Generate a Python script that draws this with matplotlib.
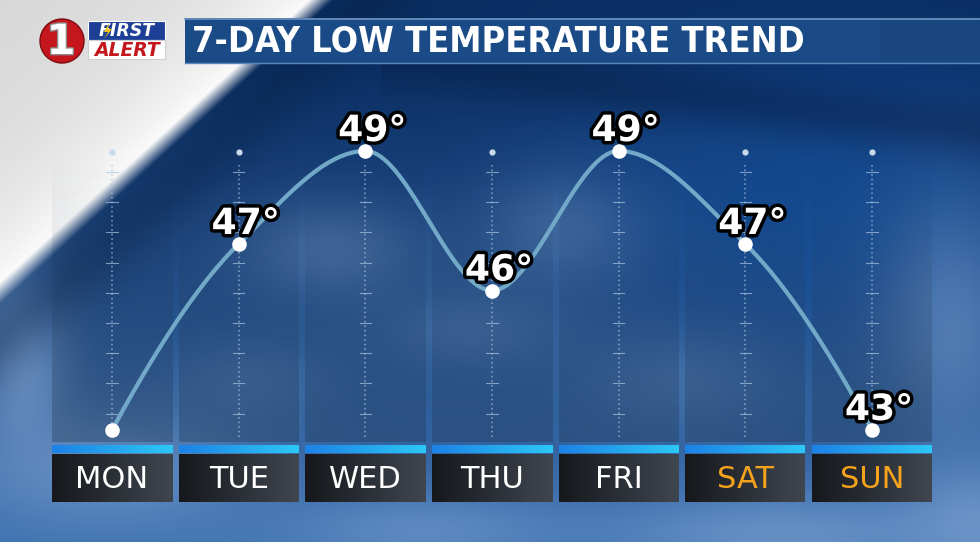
import numpy as np
import matplotlib
matplotlib.use("Agg")
import matplotlib.pyplot as plt
import matplotlib.patheffects as pe
import matplotlib.transforms as mtransforms
from matplotlib import font_manager
from matplotlib.patches import Rectangle, Circle, Polygon

# data
days = ["MON", "TUE", "WED", "THU", "FRI", "SAT", "SUN"]
lows = [43, 47, 49, 46, 49, 47, 43]
show_label = [False, True, True, True, True, True, True]
day_colors = ["white", "white", "white", "white", "white", "#f5a21c", "#f5a21c"]
title = "7-DAY LOW TEMPERATURE TREND"

W, H = 980, 542


def monotone_curve(x, y, n=60):
    # Fritsch-Carlson monotone cubic, gives the rounded tops of the curve
    x = np.asarray(x, float)
    y = np.asarray(y, float)
    h = np.diff(x)
    delta = np.diff(y) / h
    d = np.zeros(len(x))
    for k in range(1, len(x) - 1):
        if delta[k - 1] * delta[k] > 0:
            w1 = 2 * h[k] + h[k - 1]
            w2 = h[k] + 2 * h[k - 1]
            d[k] = (w1 + w2) / (w1 / delta[k - 1] + w2 / delta[k])
    for k, (a, b, ha, hb) in [(0, (delta[0], delta[1], h[0], h[1])),
                              (-1, (delta[-1], delta[-2], h[-1], h[-2]))]:
        v = ((2 * ha + hb) * a - ha * b) / (ha + hb)
        if np.sign(v) != np.sign(a):
            v = 0
        elif np.sign(a) != np.sign(b) and abs(v) > 3 * abs(a):
            v = 3 * a
        d[k] = v
    xs, ys = [], []
    for k in range(len(x) - 1):
        t = np.linspace(0, 1, n)
        h00 = 2 * t**3 - 3 * t**2 + 1
        h10 = t**3 - 2 * t**2 + t
        h01 = -2 * t**3 + 3 * t**2
        h11 = t**3 - t**2
        xs.append(x[k] + t * h[k])
        ys.append(h00 * y[k] + h10 * h[k] * d[k] + h01 * y[k + 1] + h11 * h[k] * d[k + 1])
    return np.concatenate(xs), np.concatenate(ys)


# ---- background picture (sky, clouds, white corner) ----
yy, xx = np.mgrid[0:H, 0:W].astype(float)
top = np.array([10, 46, 98])
bottom = np.array([60, 112, 175])
t = np.clip((yy - 60) / 470, 0, 1)[..., None]
img = top * (1 - t) + bottom * t

# brighter blue to the right in the middle band
blue = np.exp(-((xx - 830) / 260) ** 2 - ((yy - 200) / 150) ** 2)[..., None] * 0.55
img = img * (1 - blue) + np.array([18, 82, 165]) * blue
# dark diagonal band across the upper right
band = (0.45 * np.exp(-((yy - (60 + 0.12 * (xx - 400))) / 28) ** 2) * (xx > 380))[..., None]
img = img * (1 - band) + np.array([8, 32, 72]) * band

clouds = [
    (330, 250, 90, 50, 0.30), (560, 230, 80, 60, 0.28), (470, 330, 90, 40, 0.22),
    (950, 320, 70, 120, 0.40), (110, 470, 140, 60, 0.45), (420, 530, 140, 40, 0.35),
    (780, 535, 170, 45, 0.45), (980, 520, 80, 60, 0.45), (250, 380, 80, 40, 0.18),
    (680, 380, 100, 50, 0.22), (20, 360, 50, 90, 0.55),
]
cloud_col = np.array([150, 182, 222])
for cx, cy, sx, sy, a in clouds:
    g = (a * np.exp(-((xx - cx) / sx) ** 2 - ((yy - cy) / sy) ** 2))[..., None]
    img = img * (1 - g) + cloud_col * g

# white corner at top left with a dark shadow next to it
dist = (xx + 1.095 * yy - 320) / 1.48
shadow = (0.35 * np.exp(-((dist - 35) / 35) ** 2))[..., None]
img = img * (1 - shadow) + np.array([8, 30, 68]) * shadow
wmask = np.clip(0.5 - dist / 16, 0, 1)[..., None]
grey = np.clip(215 + 40 * np.exp(dist / 70)[..., None], 215, 250) * np.ones(3)
img = img * (1 - wmask) + grey * wmask
img = np.clip(img, 0, 255).astype(np.uint8)

fig = plt.figure(figsize=(W / 100, H / 100), dpi=100)
bg = fig.add_axes([0, 0, 1, 1])
bg.imshow(img, extent=(0, W, H, 0), aspect="auto", zorder=0)
bg.set_xlim(0, W)
bg.set_ylim(H, 0)
bg.axis("off")

# ---- title banner and logo ----
bg.add_patch(Rectangle((185, 18), W - 185, 45, fc="#1b4b86", ec="none", zorder=2))
bg.add_patch(Rectangle((880, 20), W - 880, 41, fc="#19467e", ec="none", zorder=2))
bg.plot([185, W], [18.5, 18.5], color="#6d95c4", lw=1.2, zorder=3)
bg.plot([185, W], [62.5, 62.5], color="#5d88bb", lw=1.0, zorder=3)

# narrow bold face if one is installed, otherwise fit the width by size
title_font = dict(family="DejaVu Sans", stretch="normal")
for fam, st in [("Liberation Sans Narrow", "condensed"), ("DejaVu Sans", "condensed")]:
    fp = font_manager.FontProperties(family=fam, stretch=st, weight="bold")
    try:
        path = font_manager.findfont(fp, fallback_to_default=False)
    except ValueError:
        path = ""
    if "Narrow" in path or "Condensed" in path:
        title_font = dict(family=fam, stretch=st)
        break
tt = bg.text(192, 41, title, color="white", fontsize=28, fontweight="bold",
             va="center", ha="left", zorder=4, **title_font)
fig.canvas.draw()
tw = tt.get_window_extent().width
if tw > 613:
    tt.set_fontsize(28 * 613 / tw)

bg.add_patch(Circle((62, 41), 22, fc="#c4161c", ec="#7d0c10", lw=1, zorder=3))
bg.text(61, 42, "1", color="white", fontsize=30, fontweight="heavy", ha="center",
        va="center", zorder=4, path_effects=[pe.withStroke(linewidth=2, foreground="#8a8a8a")])
bg.add_patch(Rectangle((88, 21), 77, 19, fc="#1d3f95", ec="white", lw=0.8, zorder=3))
bg.add_patch(Rectangle((88, 40), 77, 19, fc="white", ec="#cfcfcf", lw=0.8, zorder=3))
bg.text(127, 31, "FIRST", color="white", fontsize=12.5, fontweight="bold", style="italic",
        ha="center", va="center", zorder=4)
bg.add_patch(Polygon([(109, 23), (104, 32), (108, 32), (104, 39), (112, 29), (108, 29)],
                     fc="#f2c318", ec="none", zorder=5))
bg.text(127, 50, "ALERT", color="#c4161c", fontsize=13.5, fontweight="bold", style="italic",
        ha="center", va="center", zorder=4)

# ---- chart axes (x = day index, y = temperature) ----
col_px, x0_px = 126.67, 112
deg_px, y49_px = 46.5, 151
ax = fig.add_axes([0, 0, 1, 1], zorder=2)
ax.patch.set_visible(False)
trans = mtransforms.blended_transform_factory(ax.transData, bg.transData)
x = np.arange(len(days))
half = 60 / col_px

for i in x:
    # column panel, darker toward the bottom
    a = np.linspace(0.0, 0.40, 64)[:, None, None] ** 1.2
    panel = np.concatenate([np.ones((64, 1, 3)) * np.array([0.12, 0.19, 0.28]), a], axis=2)
    ax.imshow(panel, extent=(i - half, i + half, 442, 150), transform=trans,
              aspect="auto", zorder=1, interpolation="bilinear")
    # dotted guide with little ticks
    ax.plot([i, i], [165, 440], transform=trans, color="#a9c4e0", lw=1.1,
            ls=(0, (1, 2)), alpha=0.75, zorder=2)
    for ty in np.arange(172, 420, 30.2):
        ax.plot([i - 0.045, i + 0.045], [ty, ty], transform=trans, color="#a9c4e0",
                lw=0.8, alpha=0.7, zorder=2)
    ax.plot([i], [152], "o", transform=trans, color="#c9d9ea", ms=4.5, mec="none", zorder=2)
    # blue strip
    strip = np.linspace(0, 1, 64)[None, :, None]
    strip = np.array([28, 130, 230]) / 255 * (1 - strip) + np.array([45, 200, 245]) / 255 * strip
    ax.imshow(strip, extent=(i - half, i + half, 453, 445), transform=trans,
              aspect="auto", zorder=3, interpolation="bilinear")
    # day box
    g = np.linspace(0, 1, 64)[None, :, None]
    box = np.array([22, 24, 28]) / 255 * (1 - g) + np.array([64, 70, 80]) / 255 * g
    ax.imshow(box, extent=(i - half, i + half, 502, 454), transform=trans,
              aspect="auto", zorder=3, interpolation="bilinear")
    ax.text(i, 479, days[i], transform=trans, color=day_colors[i], fontsize=22,
            ha="center", va="center", zorder=4, family="DejaVu Sans")

cx, cy = monotone_curve(x, lows)
ax.plot(cx, cy, color="#72a9c8", lw=3, solid_capstyle="round", zorder=5)
ax.plot(x, lows, "o", color="white", ms=10.5, mec="none", zorder=6)

for i, v in enumerate(lows):
    if not show_label[i]:
        continue
    ax.annotate(f"{v}°", (i, v), xytext=(7, 10), textcoords="offset pixels",
                ha="center", va="baseline", color="white", fontsize=26,
                fontweight="bold", zorder=7,
                path_effects=[pe.withStroke(linewidth=5, foreground="black")])

ax.set_xlim(-x0_px / col_px, (W - x0_px) / col_px)
ax.set_ylim(49 - (H - y49_px) / deg_px, 49 + y49_px / deg_px)
ax.axis("off")

fig.savefig("out.png", dpi=100)
